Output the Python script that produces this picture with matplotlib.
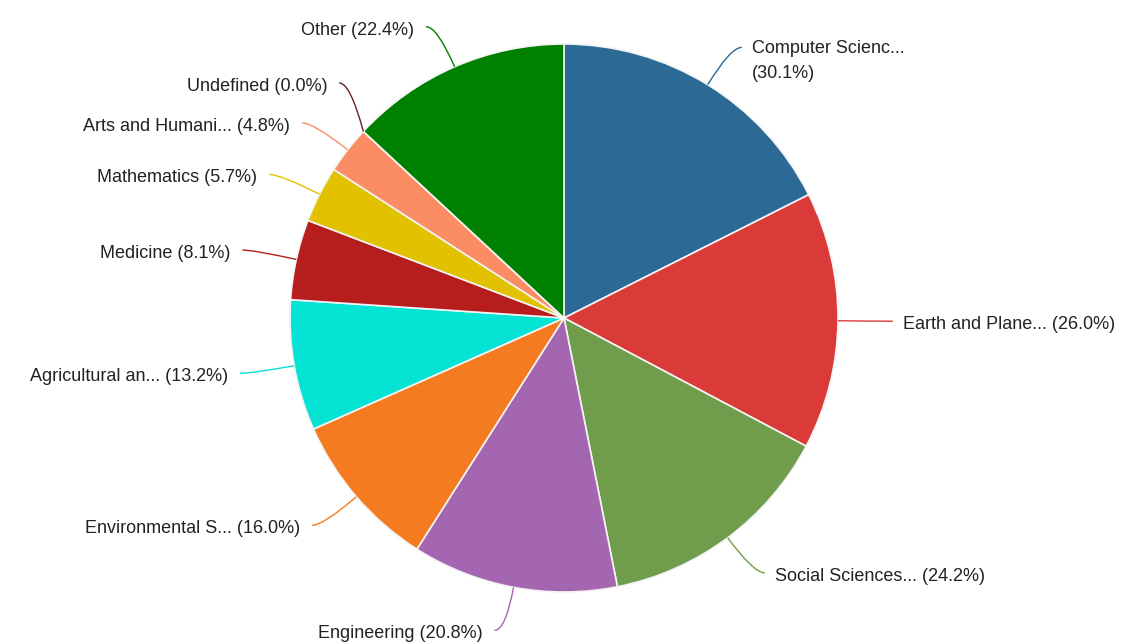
import numpy as np
import matplotlib
matplotlib.use("Agg")
import matplotlib.pyplot as plt
from matplotlib.path import Path
from matplotlib.patches import PathPatch

categories = ["Computer Scienc...", "Earth and Plane...", "Social Sciences...", "Engineering",
              "Environmental S...", "Agricultural an...", "Medicine", "Mathematics",
              "Arts and Humani...", "Undefined", "Other"]
values = [30.1, 26.0, 24.2, 20.8, 16.0, 13.2, 8.1, 5.7, 4.8, 0.0, 22.4]
colors = ["#2c6a96", "#da3a38", "#709d4b", "#a465b1", "#f47b20", "#05e4d4",
          "#b61e1e", "#e1c100", "#fb8c63", "#6b2020", "#008000"]
wrapped = {"Computer Scienc..."}

plt.rcParams['font.family'] = ['Liberation Sans', 'DejaVu Sans']

W, H = 1121, 644
fig = plt.figure(figsize=(W / 100, H / 100), dpi=100)
ax = fig.add_axes([0, 0, 1, 1])

cx, cy, R = 564, 326, 274
wedges, _ = ax.pie(values, colors=colors, startangle=90, counterclock=False,
                   center=(cx, cy), radius=R,
                   wedgeprops=dict(edgecolor="#f4f4f4", linewidth=1.2))
ax.set_xlim(0, W)
ax.set_ylim(0, H)
ax.set_aspect('equal')
ax.axis('off')

RC = 1.16 * R
items = []
for w, name, v, c in zip(wedges, categories, values, colors):
    mid = (w.theta1 + w.theta2) / 2.0
    a = np.deg2rad(mid)
    items.append(dict(name=name, v=v, c=c, a=a,
                      x0=cx + R * np.cos(a), y0=cy + R * np.sin(a),
                      xc=cx + RC * np.cos(a), yc=cy + RC * np.sin(a),
                      right=np.cos(a) > 0, pushed=False))

# avoid overlapping labels: push later labels away
min_gap = 40
for side in (True, False):
    grp = sorted([it for it in items if it['right'] == side], key=lambda d: d['yc'])
    for p, q in zip(grp, grp[1:]):
        if q['yc'] - p['yc'] < min_gap:
            q['yc'] = p['yc'] + min_gap
            q['pushed'] = True
for it in items:
    if it['pushed']:
        dy = it['yc'] - cy
        dx = np.sqrt(max(RC ** 2 - dy ** 2, 0))
        it['xc'] = cx + dx if it['right'] else cx - dx
    it['yc'] = min(max(it['yc'], 13), H - 22)

fs = 13.0
for it in items:
    sgn = 1 if it['right'] else -1
    xe, ye = it['xc'] + sgn * 11, it['yc']
    path = Path([(it['x0'], it['y0']), (it['xc'], it['yc']), (xe, ye)],
                [Path.MOVETO, Path.CURVE3, Path.CURVE3])
    ax.add_patch(PathPatch(path, fill=False, edgecolor=it['c'], lw=1.0))
    tx = xe + sgn * (10 if it['right'] else 12)
    if it['name'] in wrapped:
        label = f"{it['name']}\n({it['v']:.1f}%)"
        ax.text(tx, ye + 7, label, ha="left" if it['right'] else "right", va="top",
                fontsize=fs, color="#222222", linespacing=1.55)
    else:
        label = f"{it['name']} ({it['v']:.1f}%)"
        ax.text(tx, ye - 8, label, ha="left" if it['right'] else "right", va="baseline",
                fontsize=fs, color="#222222")

fig.savefig("out.png", dpi=100, facecolor="white")
